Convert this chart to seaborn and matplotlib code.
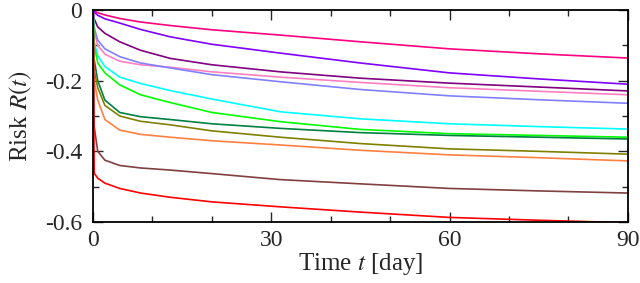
import numpy as np
import pandas as pd
import matplotlib
matplotlib.use("Agg")
import matplotlib.pyplot as plt
import seaborn as sns
from matplotlib.ticker import MultipleLocator, FuncFormatter

times = [0, 0.2, 0.8, 2, 4.5, 8, 13, 20, 31.5, 45, 60, 75, 90]

pink = [0, -0.003, -0.008, -0.014, -0.024, -0.034, -0.044, -0.056, -0.071, -0.09, -0.11, -0.124, -0.136]
purple = [0, -0.006, -0.015, -0.025, -0.037, -0.055, -0.076, -0.097, -0.122, -0.15, -0.178, -0.195, -0.21]
dark_purple = [0, -0.025, -0.048, -0.066, -0.09, -0.114, -0.137, -0.155, -0.175, -0.193, -0.207, -0.218, -0.229]
light_pink = [0, -0.06, -0.1, -0.125, -0.145, -0.155, -0.162, -0.175, -0.19, -0.205, -0.22, -0.23, -0.24]
light_blue = [0, -0.05, -0.085, -0.11, -0.132, -0.15, -0.164, -0.183, -0.203, -0.225, -0.243, -0.254, -0.264]
cyan = [0, -0.09, -0.13, -0.16, -0.19, -0.208, -0.228, -0.252, -0.288, -0.308, -0.322, -0.33, -0.337]
green = [0, -0.1, -0.15, -0.178, -0.212, -0.24, -0.262, -0.29, -0.316, -0.338, -0.35, -0.355, -0.36]
dark_green = [0, -0.14, -0.2, -0.255, -0.29, -0.302, -0.31, -0.322, -0.335, -0.347, -0.355, -0.36, -0.365]
olive = [0, -0.17, -0.22, -0.27, -0.3, -0.315, -0.325, -0.342, -0.36, -0.378, -0.393, -0.4, -0.408]
orange = [0, -0.2, -0.255, -0.31, -0.34, -0.352, -0.36, -0.37, -0.382, -0.397, -0.41, -0.418, -0.427]
brown = [0, -0.33, -0.4, -0.425, -0.44, -0.447, -0.453, -0.463, -0.48, -0.492, -0.505, -0.512, -0.518]
red = [0, -0.462, -0.476, -0.49, -0.505, -0.518, -0.53, -0.543, -0.557, -0.572, -0.587, -0.595, -0.602]

series = {
    "pink": pink, "purple": purple, "dark_purple": dark_purple,
    "light_pink": light_pink, "light_blue": light_blue, "cyan": cyan,
    "green": green, "dark_green": dark_green, "olive": olive,
    "orange": orange, "brown": brown, "red": red,
}
colors = {
    "pink": "#ff0080", "purple": "#8000ff", "dark_purple": "#800080",
    "light_pink": "#ff80c0", "light_blue": "#8080ff", "cyan": "#00ffff",
    "green": "#00ff00", "dark_green": "#008040", "olive": "#808000",
    "orange": "#ff8040", "brown": "#804040", "red": "#ff0000",
}

rows = []
for name, vals in series.items():
    for t, v in zip(times, vals):
        rows.append({"t": t, "R": v, "s": name})
df = pd.DataFrame(rows)

sns.set_style("ticks")
plt.rcParams["font.family"] = ["Liberation Serif", "DejaVu Serif"]
plt.rcParams["mathtext.fontset"] = "stix"

fig = plt.figure(figsize=(6.4, 2.83), dpi=100)
ax = fig.add_axes([0.1453, 0.2155, 0.8357, 0.7492])

sns.lineplot(data=df, x="t", y="R", hue="s", palette=colors, legend=False,
             ax=ax, linewidth=1.2, sort=False)

ax.set_xlim(0, 90)
ax.set_ylim(-0.6, 0)
ax.xaxis.set_major_locator(MultipleLocator(30))
ax.xaxis.set_minor_locator(MultipleLocator(10))
ax.yaxis.set_major_locator(MultipleLocator(0.2))
ax.yaxis.set_minor_locator(MultipleLocator(0.1))
ax.yaxis.set_major_formatter(FuncFormatter(
    lambda v, p: "0" if abs(v) < 1e-9 else f"{v:.1f}"))
ax.tick_params(which="both", direction="in", top=True, right=True,
               labelsize=17, width=1.0)
ax.tick_params(axis="x", which="major", pad=6)
ax.tick_params(axis="y", which="major", pad=8)
ax.tick_params(which="major", length=7)
ax.tick_params(which="minor", length=4)
for sp in ax.spines.values():
    sp.set_linewidth(1.3)
    sp.set_visible(True)
    sp.set_color("black")

ax.set_xlabel("Time $t$ [day]", fontsize=18, labelpad=0)
ax.set_ylabel("Risk $R(t)$", fontsize=18, labelpad=8)

fig.savefig("out.png", dpi=100)
